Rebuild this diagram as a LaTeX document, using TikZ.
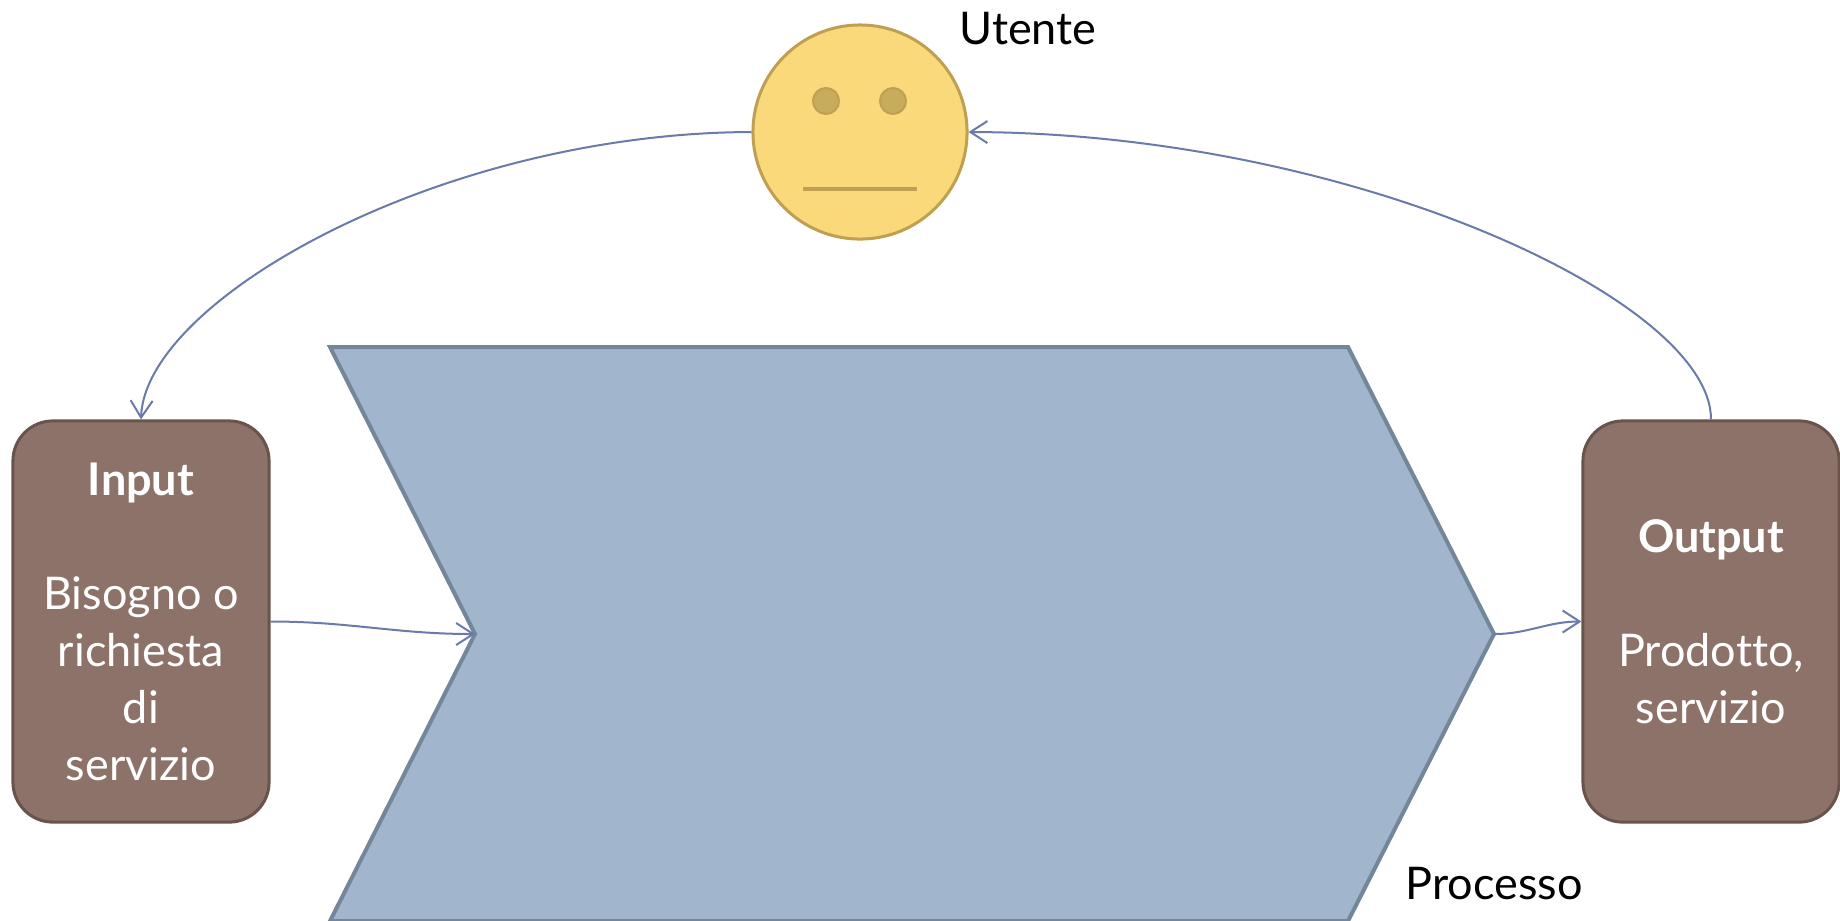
\documentclass[tikz,border=0pt]{standalone}
\usepackage{fontspec}
\setmainfont{Lato}[Ligatures=NoCommon]
\usetikzlibrary{arrows.meta,positioning}
\definecolor{facefill}{RGB}{250,217,122}
\definecolor{faceline}{RGB}{191,160,82}
\definecolor{eyefill}{RGB}{200,172,94}
\definecolor{boxfill}{RGB}{140,114,104}
\definecolor{boxline}{RGB}{104,84,76}
\definecolor{chevfill}{RGB}{161,182,204}
\definecolor{chevline}{RGB}{115,134,154}
\definecolor{linkblue}{RGB}{106,122,170}

\begin{document}
\begin{tikzpicture}[
    x=0.01cm, y=-0.01cm,
    every node/.style={
        inner sep=0pt,
        align=center,
        font=\fontsize{12.8pt}{16.2pt}\selectfont
    },
    stagebox/.style={
        rectangle, rounded corners=0.4cm,
        draw=boxline, fill=boxfill, line width=0.03cm,
        minimum width=2.56cm, minimum height=4.01cm,
        text=white
    },
    face/.style={
        circle, draw=faceline, fill=facefill, line width=0.03cm,
        minimum size=2.14cm
    },
    eye/.style={draw=faceline, fill=eyefill, line width=0.02cm},
    link/.style={
        draw=linkblue, line width=0.02cm,
        -{Straight Barb[length=0.17cm,width=0.22cm]}
    }
]
\useasboundingbox (0,0) rectangle (1840,920);

% processo
\coordinate (notch) at (475,634);
\coordinate (tip) at (1494,634);
\draw[fill=chevfill, draw=chevline, line width=0.04cm, line join=miter]
    (330,347) -- (1348,347) -- (tip) -- (1348,921) -- (330,921) -- (notch) -- cycle;
\node (proc) at (1494,884) {Processo};

% utente
\node[face] (user) at (860,132) {};
\draw[eye] (user.center) ++(-34,-31) circle[radius=0.13cm];
\draw[eye] (user.center) ++(33,-31) circle[radius=0.13cm];
\draw[draw=faceline, line width=0.04cm] (user.center) ++(-57,57) -- ++(114,0);
\node (userlabel) at (1028,29) {Utente};

% input / output
\node[stagebox] (input) at (141,621.5) {\textbf{Input}\\[16.2pt]Bisogno o\\richiesta\\di\\servizio};
\node[stagebox] (output) at (1711,621.5) {\textbf{Output}\\[16.2pt]Prodotto,\\servizio};

% connectors
\draw[link] (user.west) .. controls (440,133) and (145,300) .. (input.north);
\draw[link] (output.north) .. controls (1711,300) and (1350,133) .. (user.east);
\draw[link] (input.east) to[out=0,in=180] (notch);
\draw[link] (tip) to[out=0,in=180] (output.west);
\end{tikzpicture}
\end{document}
